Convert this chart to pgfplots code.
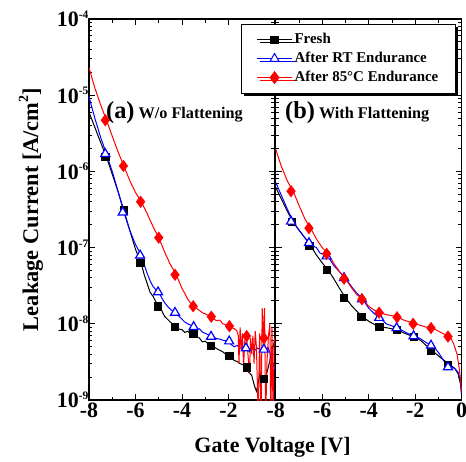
\documentclass[border=0pt]{standalone}
\usepackage{fontspec}
\setmainfont{Liberation Serif}
\usepackage{pgfplots}
\pgfplotsset{compat=1.18}
\usetikzlibrary{shadows}

\newcommand{\ysup}[1]{\textbf{10}\raisebox{8.5bp}{\fontsize{11.5}{11.5}\selectfont\bfseries #1}}

\pgfplotsset{
  fresh/.style={black, line width=1bp},
  rt/.style={blue, line width=1bp},
  hot/.style={red, line width=1bp},
  freshm/.style={black, only marks, mark=square*, mark size=3.6bp},
  rtm/.style={blue, only marks, mark=triangle*, mark size=5.2bp, mark options={fill=white, line width=1.2bp}},
  hotm/.style={red, only marks, mark=diamond*, mark size=5.8bp},
}
\def\mintick{2e-9,3e-9,4e-9,5e-9,6e-9,7e-9,8e-9,9e-9,2e-8,3e-8,4e-8,5e-8,6e-8,7e-8,8e-8,9e-8,2e-7,3e-7,4e-7,5e-7,6e-7,7e-7,8e-7,9e-7,2e-6,3e-6,4e-6,5e-6,6e-6,7e-6,8e-6,9e-6,2e-5,3e-5,4e-5,5e-5,6e-5,7e-5,8e-5,9e-5}

\begin{document}
\begin{tikzpicture}
\path[use as bounding box] (-89bp,-62bp) rectangle (377bp,400bp);

% ---------------- left panel (a) ----------------
\begin{axis}[
  scale only axis, width=186bp, height=381bp,
  ymode=log, ymin=1e-9, ymax=1e-4, xmin=-8, xmax=0,
  axis line style={line width=1.2bp},
  every tick/.style={black, line width=0.9bp},
  major tick length=6bp, minor tick length=3.5bp,
  minor x tick num=1,
  tick label style={font=\fontsize{22}{22}\selectfont\bfseries},
  yticklabel style={inner xsep=0.5bp},
  xticklabel style={inner ysep=2.5bp},
  ytick={1e-9,1e-8,1e-7,1e-6,1e-5,1e-4},
  minor ytick/.expand once=\mintick,
  at={(0bp,0bp)}, anchor=south west,
  xtick={-8,-6,-4,-2}, xticklabels={-8,-6,-4,-2},
  yticklabels={\ysup{-9},\ysup{-8},\ysup{-7},\ysup{-6},\ysup{-5},\ysup{-4}},
  ylabel={Leakage Current [A/cm\raisebox{0.45em}{\fontsize{14}{14}\selectfont 2}]},
  every axis y label/.style={at={(axis description cs:-0.312,0.5)}, rotate=90, anchor=center, font=\fontsize{22.5}{22.5}\selectfont\bfseries},
  xlabel={Gate Voltage [V]},
  every axis x label/.style={at={(axis description cs:0.987,-0.1365)}, anchor=base, font=\fontsize{22}{22}\selectfont\bfseries},
]
\addplot[fresh, forget plot] coordinates {
(-8,6.0e-6) (-7.75,3.8e-6) (-7.5,2.4e-6) (-7.25,1.55e-6) (-7.0,9.2e-7) (-6.75,5.4e-7) (-6.5,3.1e-7) (-6.25,1.7e-7) (-6.0,9.5e-8) (-5.75,6.2e-8) (-5.625,4.4e-8) (-5.5,3.4e-8) (-5.375,2.6e-8) (-5.25,2.3e-8) (-5.125,1.95e-8) (-5.0,1.7e-8) (-4.875,1.5e-8) (-4.75,1.25e-8) (-4.625,1.15e-8) (-4.5,1.05e-8) (-4.375,9.8e-9) (-4.25,9.1e-9) (-4.125,8.5e-9) (-4.0,8.4e-9) (-3.875,7.7e-9) (-3.75,8.0e-9) (-3.625,7.3e-9) (-3.5,7.4e-9) (-3.375,6.7e-9) (-3.25,6.5e-9) (-3.125,5.8e-9) (-3.0,5.9e-9) (-2.875,5.4e-9) (-2.75,5.2e-9) (-2.625,5.0e-9) (-2.5,4.7e-9) (-2.375,4.5e-9) (-2.25,4.3e-9) (-2.125,4.0e-9) (-2.0,3.8e-9) (-1.875,3.6e-9) (-1.75,3.3e-9) (-1.625,3.2e-9) (-1.5,3.0e-9) (-1.375,2.9e-9) (-1.25,2.7e-9) (-1.125,2.3e-9) (-1.0,2.1e-9) (-0.9,1.6e-9) (-0.8,1.3e-9) (-0.75,1.5e-9) (-0.65,2.2e-9) (-0.55,1.8e-9) (-0.5,1.9e-9) (-0.4,2.0e-9) (-0.3,2.6e-9) (-0.2,3.5e-9) (-0.1,5.0e-9) (0,6.0e-9)};
\addplot[freshm, forget plot] coordinates {
(-7.3,1.55e-6) (-6.52,3.1e-7) (-5.8,6.3e-8) (-5.03,1.7e-8) (-4.3,9.1e-9) (-3.52,7.4e-9) (-2.75,5.2e-9) (-1.97,3.8e-9) (-1.22,2.7e-9) (-0.48,1.9e-9)};

\addplot[rt, forget plot] coordinates {
(-8,9.5e-6) (-7.75,5.0e-6) (-7.5,2.8e-6) (-7.25,1.7e-6) (-7.0,1.0e-6) (-6.75,5.5e-7) (-6.5,2.9e-7) (-6.25,1.7e-7) (-6.0,1.1e-7) (-5.75,7.9e-8) (-5.625,6.0e-8) (-5.5,4.6e-8) (-5.375,3.7e-8) (-5.25,3.1e-8) (-5.125,2.8e-8) (-5.0,2.6e-8) (-4.875,2.2e-8) (-4.75,1.9e-8) (-4.625,1.7e-8) (-4.5,1.55e-8) (-4.375,1.45e-8) (-4.25,1.4e-8) (-4.125,1.25e-8) (-4.0,1.15e-8) (-3.875,1.05e-8) (-3.75,1.0e-8) (-3.625,9.6e-9) (-3.5,9.1e-9) (-3.375,8.4e-9) (-3.25,8.6e-9) (-3.125,7.8e-9) (-3.0,7.5e-9) (-2.875,7.2e-9) (-2.75,6.8e-9) (-2.625,6.6e-9) (-2.5,6.4e-9) (-2.375,6.3e-9) (-2.25,6.1e-9) (-2.125,6.0e-9) (-2.0,5.9e-9) (-1.875,5.3e-9) (-1.75,5.0e-9) (-1.625,5.2e-9) (-1.5,4.8e-9) (-1.375,5.0e-9) (-1.25,4.8e-9) (-1.1,4.3e-9) (-1.0,5.2e-9) (-0.9,4.4e-9) (-0.75,4.8e-9) (-0.6,4.5e-9) (-0.5,4.6e-9) (-0.4,4.7e-9) (-0.3,4.9e-9) (-0.2,4.0e-9) (-0.1,3.0e-9) (0,2.5e-9)};
\addplot[rtm, forget plot] coordinates {
(-7.3,1.7e-6) (-6.55,2.9e-7) (-5.8,7.9e-8) (-5.03,2.6e-8) (-4.3,1.4e-8) (-3.5,9.1e-9) (-2.75,6.8e-9) (-1.97,5.9e-9) (-1.25,4.8e-9) (-0.48,4.6e-9)};

\addplot[hot, forget plot] coordinates {
(-8,2.3e-5) (-7.75,1.25e-5) (-7.5,7.5e-6) (-7.25,4.7e-6) (-7.0,2.9e-6) (-6.75,1.8e-6) (-6.5,1.18e-6) (-6.25,7.6e-7) (-6.0,5.3e-7) (-5.75,4.0e-7) (-5.5,2.8e-7) (-5.25,1.9e-7) (-5.0,1.35e-7) (-4.75,8.8e-8) (-4.5,6.0e-8) (-4.25,4.4e-8) (-4.125,3.6e-8) (-4.0,2.9e-8) (-3.875,2.5e-8) (-3.75,2.1e-8) (-3.625,1.85e-8) (-3.5,1.7e-8) (-3.375,1.6e-8) (-3.25,1.5e-8) (-3.125,1.4e-8) (-3.0,1.35e-8) (-2.875,1.3e-8) (-2.75,1.24e-8) (-2.625,1.15e-8) (-2.5,1.1e-8) (-2.375,1.12e-8) (-2.25,1.0e-8) (-2.125,9.8e-9) (-2.0,9.3e-9) (-1.875,9.0e-9) (-1.75,8.6e-9) (-1.65,8.2e-9) (-1.58,7.0e-9) (-1.55,3.0e-9) (-1.5,9.0e-9) (-1.45,4.5e-9) (-1.4,7.5e-9) (-1.35,2.8e-9) (-1.3,6.0e-9) (-1.22,6.9e-9) (-1.15,3.5e-9) (-1.1,2.2e-9) (-1.05,6.5e-9) (-1.0,4.0e-9) (-0.95,7.0e-9) (-0.9,3.0e-9) (-0.85,8.0e-9) (-0.8,5.0e-9) (-0.72,6.0e-10) (-0.66,7.5e-9) (-0.6,5.0e-10) (-0.55,1.6e-8) (-0.5,6.5e-9) (-0.45,1.6e-8) (-0.4,5e-10) (-0.35,3.0e-9) (-0.28,7.0e-9) (-0.22,1.0e-8) (-0.18,5e-10) (-0.13,9.0e-9) (-0.08,5e-10) (-0.04,6.0e-9) (0,6.5e-9)};
\addplot[hotm, forget plot] coordinates {
(-7.3,4.7e-6) (-6.52,1.18e-6) (-5.78,4.0e-7) (-5.0,1.35e-7) (-4.3,4.4e-8) (-3.52,1.7e-8) (-2.74,1.24e-8) (-1.96,9.3e-9) (-1.22,6.9e-9) (-0.48,6.5e-9)};

\node[anchor=base west, inner sep=0pt, font=\bfseries] at (rel axis cs:0.091,0.738)
 {{\fontsize{24.5}{24.5}\selectfont (a)}\hspace{4bp}{\fontsize{16.3}{16.3}\selectfont W/o Flattening}};
\end{axis}

% ---------------- right panel (b) ----------------
\begin{axis}[
  scale only axis, width=186bp, height=381bp,
  ymode=log, ymin=1e-9, ymax=1e-4, xmin=-8, xmax=0,
  axis line style={line width=1.2bp},
  every tick/.style={black, line width=0.9bp},
  major tick length=6bp, minor tick length=3.5bp,
  minor x tick num=1,
  tick label style={font=\fontsize{22}{22}\selectfont\bfseries},
  xticklabel style={inner ysep=2.5bp},
  ytick={1e-9,1e-8,1e-7,1e-6,1e-5,1e-4},
  minor ytick/.expand once=\mintick,
  at={(186.7bp,0bp)}, anchor=south west,
  xtick={-8,-6,-4,-2,0}, xticklabels={-8,-6,-4,-2,0},
  yticklabels={},
  legend image code/.code={\draw[mark repeat=2,mark phase=2] plot coordinates {(0bp,0bp) (17.5bp,0bp) (35bp,0bp)};},
  legend style={at={(rel axis cs:0.968,0.987)}, anchor=north east,
    font=\fontsize{15}{15}\selectfont\bfseries, draw=black, line width=0.8bp, fill=white,
    drop shadow={shadow xshift=2.5bp, shadow yshift=-2.5bp, opacity=1, fill=black},
    inner xsep=15bp, inner ysep=6bp,
    nodes={text height=11bp, text depth=3.5bp, inner ysep=2.2bp, inner xsep=2bp}},
  legend cell align=left,
]
\addplot[fresh, forget plot] coordinates {
(-8,6.2e-7) (-7.75,4.3e-7) (-7.5,3.0e-7) (-7.25,2.15e-7) (-7.0,1.7e-7) (-6.75,1.35e-7) (-6.5,1.07e-7) (-6.25,8.0e-8) (-6.0,6.3e-8) (-5.75,5.1e-8) (-5.5,3.9e-8) (-5.25,2.9e-8) (-5.0,2.2e-8) (-4.75,1.75e-8) (-4.5,1.45e-8) (-4.25,1.23e-8) (-4.0,1.08e-8) (-3.75,9.8e-9) (-3.5,9.1e-9) (-3.25,8.9e-9) (-3.0,8.6e-9) (-2.75,8.3e-9) (-2.5,7.6e-9) (-2.25,7.1e-9) (-2.0,6.7e-9) (-1.75,6.0e-9) (-1.5,5.1e-9) (-1.25,4.4e-9) (-1.0,3.8e-9) (-0.75,3.3e-9) (-0.5,2.9e-9) (-0.3,2.6e-9) (-0.15,2.2e-9) (-0.05,1.6e-9) (0,1.1e-9)};
\addplot[freshm, forget plot] coordinates {
(-7.3,2.2e-7) (-6.56,1.07e-7) (-5.81,5.1e-8) (-5.06,2.2e-8) (-4.32,1.23e-8) (-3.55,9.1e-9) (-2.8,8.4e-9) (-2.07,6.8e-9) (-1.32,4.4e-9) (-0.59,2.9e-9)};

\addplot[rt, forget plot] coordinates {
(-8,7.2e-7) (-7.75,4.8e-7) (-7.5,3.2e-7) (-7.25,2.2e-7) (-7.0,1.7e-7) (-6.75,1.35e-7) (-6.6,1.2e-7) (-6.5,1.15e-7) (-6.4,1.05e-7) (-6.25,1.0e-7) (-6.1,8.5e-8) (-6.0,8.3e-8) (-5.75,7.7e-8) (-5.5,5.8e-8) (-5.25,4.8e-8) (-5.0,4.0e-8) (-4.75,3.1e-8) (-4.5,2.5e-8) (-4.25,2.1e-8) (-4.0,1.6e-8) (-3.75,1.35e-8) (-3.5,1.2e-8) (-3.25,1.0e-8) (-3.0,9.4e-9) (-2.75,8.8e-9) (-2.5,8.0e-9) (-2.25,7.3e-9) (-2.0,6.9e-9) (-1.75,6.3e-9) (-1.5,5.6e-9) (-1.25,5.2e-9) (-1.0,4.2e-9) (-0.75,3.2e-9) (-0.5,2.7e-9) (-0.3,2.6e-9) (-0.15,2.3e-9) (-0.05,1.8e-9) (0,1.2e-9)};
\addplot[rtm, forget plot] coordinates {
(-7.34,2.2e-7) (-6.57,1.15e-7) (-5.81,7.7e-8) (-5.06,4.0e-8) (-4.29,2.1e-8) (-3.55,1.2e-8) (-2.8,8.8e-9) (-2.07,6.9e-9) (-1.32,5.2e-9) (-0.59,2.7e-9)};

\addplot[hot, forget plot] coordinates {
(-8,1.95e-6) (-7.75,1.15e-6) (-7.5,7.5e-7) (-7.25,5.5e-7) (-7.0,3.6e-7) (-6.75,2.4e-7) (-6.5,1.8e-7) (-6.25,1.3e-7) (-6.0,1.0e-7) (-5.75,8.3e-8) (-5.5,6.2e-8) (-5.25,4.8e-8) (-5.0,3.9e-8) (-4.75,3.0e-8) (-4.5,2.4e-8) (-4.25,2.1e-8) (-4.0,1.7e-8) (-3.75,1.5e-8) (-3.5,1.4e-8) (-3.25,1.32e-8) (-3.0,1.28e-8) (-2.75,1.22e-8) (-2.5,1.12e-8) (-2.25,1.06e-8) (-2.0,1.0e-8) (-1.75,9.5e-9) (-1.5,9.0e-9) (-1.25,8.8e-9) (-1.0,8.0e-9) (-0.75,7.3e-9) (-0.5,6.8e-9) (-0.35,5.5e-9) (-0.2,4.0e-9) (-0.1,2.5e-9) (0,1.3e-9)};
\addplot[hotm, forget plot] coordinates {
(-7.34,5.5e-7) (-6.57,1.8e-7) (-5.81,8.3e-8) (-5.06,3.9e-8) (-4.29,2.1e-8) (-3.55,1.4e-8) (-2.78,1.22e-8) (-2.09,1.0e-8) (-1.32,8.8e-9) (-0.59,6.8e-9)};

\addlegendimage{black, line width=1bp, mark=square*, mark size=3.6bp}
\addlegendentry{Fresh}
\addlegendimage{blue, line width=1bp, mark=triangle*, mark size=5.2bp, mark options={fill=white}}
\addlegendentry{After RT Endurance}
\addlegendimage{red, line width=1bp, mark=diamond*, mark size=5.8bp}
\addlegendentry{After 85\textdegree C Endurance}

\node[anchor=base west, inner sep=0pt, font=\bfseries] at (rel axis cs:0.05,0.738)
 {{\fontsize{24.5}{24.5}\selectfont (b)}\hspace{4bp}{\fontsize{16.3}{16.3}\selectfont With Flattening}};
\end{axis}
\end{tikzpicture}
\end{document}
